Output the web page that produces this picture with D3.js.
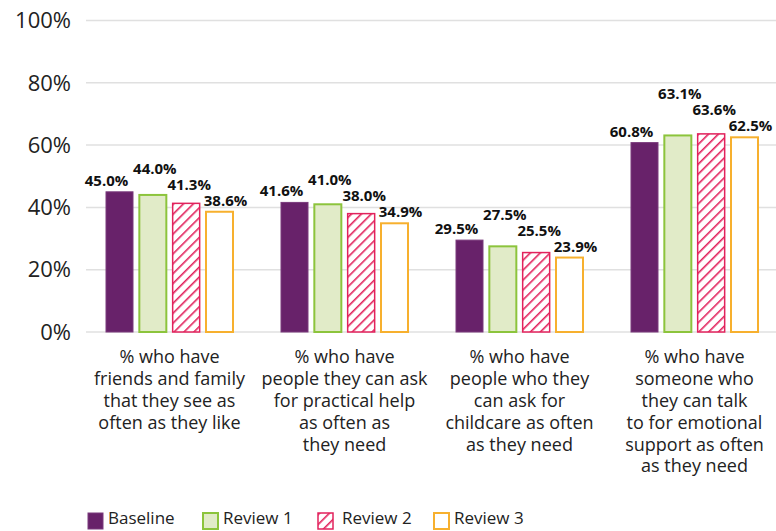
<!DOCTYPE html>
<html>
<head>
<meta charset="utf-8">
<script src="https://cdn.jsdelivr.net/npm/d3@7"></script>
<style>
  body { margin: 0; background: #fff; }
  svg { display: block; font-family: "Open Sans", sans-serif; }
</style>
</head>
<body>
<div id="chart"></div>
<script>
const categories = [
  ["% who have", "friends and family", "that they see as", "often as they like"],
  ["% who have", "people they can ask", "for practical help", "as often as", "they need"],
  ["% who have", "people who they", "can ask for", "childcare as often", "as they need"],
  ["% who have", "someone who", "they can talk", "to for emotional", "support as often", "as they need"]
];
const seriesNames = ["Baseline", "Review 1", "Review 2", "Review 3"];
const baseline = [45.0, 41.6, 29.5, 60.8];
const review1 = [44.0, 41.0, 27.5, 63.1];
const review2 = [41.3, 38.0, 25.5, 63.6];
const review3 = [38.6, 34.9, 23.9, 62.5];
const yTicks = [0, 20, 40, 60, 80, 100];

const values = [baseline, review1, review2, review3];

const W = 776, H = 531;
const svg = d3.select("#chart").append("svg").attr("width", W).attr("height", H);

// hatch for review 2
const defs = svg.append("defs");
defs.append("pattern")
  .attr("id", "hatch").attr("patternUnits", "userSpaceOnUse")
  .attr("width", 7).attr("height", 7).attr("patternTransform", "rotate(45)")
  .call(p => {
    p.append("rect").attr("width", 7).attr("height", 7).attr("fill", "#fff");
    p.append("line").attr("x1", 0).attr("y1", 0).attr("x2", 0).attr("y2", 7)
      .attr("stroke", "#e2225c").attr("stroke-width", 3.2);
  });

const styles = [
  { fill: "#68226a", stroke: "#7a3a7c", sw: 1 },
  { fill: "#e1ebc8", stroke: "#8cc43c", sw: 2 },
  { fill: "url(#hatch)", stroke: "#e2225c", sw: 1.5 },
  { fill: "#fff", stroke: "#f7b02e", sw: 2 }
];

const x = d3.scaleBand().domain(d3.range(categories.length)).range([82, 782]);
const xs = d3.scaleBand().domain(d3.range(seriesNames.length)).range([24, 151]).paddingInner(0.19);
const y = d3.scaleLinear().domain([0, 100]).range([332, 20.5]);

// grid + y labels
svg.append("g").selectAll("line").data(yTicks).join("line")
  .attr("x1", 86).attr("x2", W)
  .attr("y1", d => y(d)).attr("y2", d => y(d))
  .attr("stroke", "#e0e0e0").attr("stroke-width", 1.5);

svg.append("g").selectAll("text").data(yTicks).join("text")
  .attr("x", 71).attr("y", d => y(d)).attr("dy", "0.35em")
  .attr("text-anchor", "end").attr("font-size", 22).attr("fill", "#222")
  .text(d => d + "%");

// bars
const gBars = svg.append("g");
values.forEach((vals, s) => {
  gBars.selectAll(".b" + s).data(vals).join("rect")
    .attr("x", (d, i) => x(i) + xs(s)).attr("width", xs.bandwidth())
    .attr("y", d => y(d)).attr("height", d => y(0) - y(d))
    .attr("fill", styles[s].fill).attr("stroke", styles[s].stroke)
    .attr("stroke-width", styles[s].sw);
});

// value labels, pushed up when they collide (right to left within each group)
const shift = [-13, 2, 3, 6];
const gLab = svg.append("g");
categories.forEach((c, i) => {
  const placed = [];
  for (let s = seriesNames.length - 1; s >= 0; s--) {
    const v = values[s][i];
    const t = gLab.append("text")
      .attr("text-anchor", "middle").attr("font-size", 15).attr("font-weight", 700)
      .attr("fill", "#111").text(v.toFixed(1) + "%");
    const w = t.node().getComputedTextLength() + 2;
    const cx = x(i) + xs(s) + xs.bandwidth() / 2 + shift[s];
    const h = 16;
    let bottom = y(v) - 3;
    let moved = true;
    while (moved) {
      moved = false;
      for (const b of placed) {
        const ox = cx - w / 2 < b.x2 && cx + w / 2 > b.x1;
        const oy = bottom - h < b.y2 && bottom > b.y1;
        if (ox && oy) { bottom = b.y1; moved = true; }
      }
    }
    placed.push({ x1: cx - w / 2, x2: cx + w / 2, y1: bottom - h, y2: bottom });
    t.attr("x", cx).attr("y", bottom - 3);
  }
});

// category labels
const gCat = svg.append("g");
categories.forEach((lines, i) => {
  const t = gCat.append("text").attr("text-anchor", "middle")
    .attr("font-size", 18).attr("fill", "#222");
  lines.forEach((ln, k) => {
    t.append("tspan").attr("x", x(i) + x.bandwidth() / 2)
      .attr("y", 357 + k * 21.8).attr("dy", "0.35em").text(ln);
  });
});

// legend
const legX = [88, 203, 318, 434];
const gLeg = svg.append("g");
seriesNames.forEach((n, s) => {
  gLeg.append("rect").attr("x", legX[s]).attr("y", 513).attr("width", 15).attr("height", 16)
    .attr("fill", styles[s].fill).attr("stroke", styles[s].stroke).attr("stroke-width", styles[s].sw);
  gLeg.append("text").attr("x", legX[s] + 20 + (s === 2 ? 4 : 0)).attr("y", 524)
    .attr("font-size", 17).attr("fill", "#222").text(n);
});
</script>
</body>
</html>
